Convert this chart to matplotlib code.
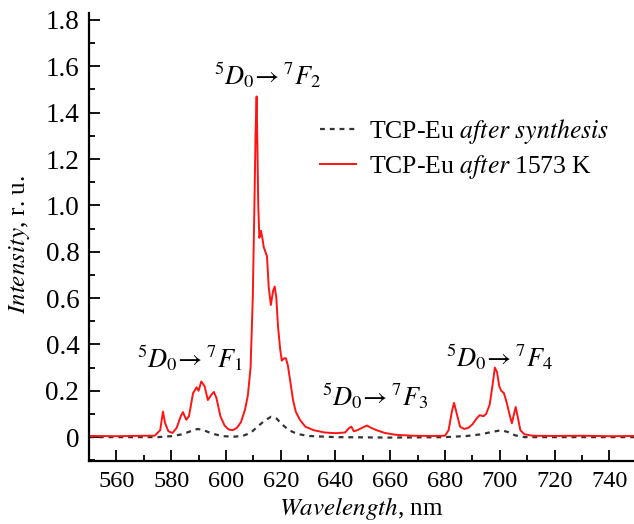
import matplotlib
matplotlib.use('Agg')
import matplotlib.pyplot as plt
from matplotlib.ticker import MultipleLocator, FuncFormatter

# red curve: TCP-Eu after 1573 K
wl_hot = [550, 560, 570, 574, 576, 577, 577.8, 579, 580.5, 582, 583.5, 584.3, 585.5, 586.5,
          588, 589.3, 590, 591, 592.2, 593.4, 594.5, 595.6, 596.5, 598, 599.5, 601, 602.5,
          604, 605.5, 607, 608, 609, 609.8, 610.4, 610.8, 611.2, 611.5, 611.8, 612.2, 612.8,
          613.3, 613.8, 614.4, 615, 615.6, 616.4, 617.2, 617.8, 618.4, 619, 619.8, 620.4,
          621.2, 621.9, 622.6, 623.5, 624.5, 625.5, 627, 629, 632, 636, 640, 643.5, 645,
          645.8, 646.7, 648, 650, 651.5, 653, 655, 658, 662, 668, 675, 680, 681.3, 682.5,
          683.3, 684.3, 685.5, 687, 688.5, 690, 691.5, 692.7, 694, 695, 696.3, 697.3, 698.2,
          699, 699.8, 700.5, 701.5, 702.5, 703.5, 704.4, 705.2, 705.8, 706.5, 707.5, 709,
          712, 720, 730, 740, 750]
int_hot = [0.005, 0.004, 0.006, 0.006, 0.03, 0.11, 0.06, 0.025, 0.018, 0.04, 0.09, 0.108, 0.075, 0.09,
           0.19, 0.215, 0.2, 0.24, 0.22, 0.16, 0.18, 0.195, 0.17, 0.09, 0.05, 0.033, 0.03,
           0.04, 0.065, 0.12, 0.18, 0.3, 0.6, 1.0, 1.3, 1.47, 1.25, 1.0, 0.86, 0.89,
           0.86, 0.82, 0.80, 0.78, 0.65, 0.57, 0.63, 0.65, 0.60, 0.48, 0.38, 0.33,
           0.34, 0.34, 0.31, 0.24, 0.16, 0.11, 0.075, 0.045, 0.03, 0.02, 0.017, 0.02, 0.04,
           0.045, 0.025, 0.03, 0.042, 0.05, 0.04, 0.03, 0.018, 0.01, 0.006, 0.005, 0.006, 0.03, 0.11,
           0.148, 0.1, 0.045, 0.035, 0.04, 0.055, 0.08, 0.095, 0.09, 0.1, 0.14, 0.22, 0.3,
           0.28, 0.22, 0.2, 0.19, 0.15, 0.1, 0.06, 0.1, 0.13, 0.09, 0.03, 0.012,
           0.006, 0.005, 0.006, 0.004, 0.005]

# dashed curve: TCP-Eu after synthesis
wl_syn = [550, 575, 580, 584, 587, 589.5, 591.5, 593.5, 596, 599, 603, 606, 609, 611.5, 614,
          616.5, 618.5, 620.5, 623, 626, 630, 640, 660, 680, 688, 693, 697, 700.5, 703,
          705.5, 709, 750]
int_syn = [0.0, 0.0, 0.004, 0.012, 0.025, 0.035, 0.032, 0.022, 0.012, 0.004, 0.002, 0.005, 0.018,
           0.045, 0.07, 0.088, 0.08, 0.055, 0.03, 0.014, 0.005, 0.0, -0.002, 0.0, 0.005, 0.012,
           0.022, 0.03, 0.022, 0.008, 0.0, 0.0]

transitions = [r'$^5D_0\!\rightarrow{}^7F_1$', r'$^5D_0\!\rightarrow{}^7F_2$',
               r'$^5D_0\!\rightarrow{}^7F_3$', r'$^5D_0\!\rightarrow{}^7F_4$']
trans_xy = [(567.5, 0.302), (595.5, 1.52), (635, 0.138), (680.3, 0.306)]

plt.rcParams['font.family'] = ['Liberation Serif', 'DejaVu Serif']
plt.rcParams['mathtext.fontset'] = 'stix'

fig = plt.figure(figsize=(6.34, 5.24), dpi=100)
ax = fig.add_axes([89/634, 63/524, 545/634, 448/524])

ax.plot(wl_syn, int_syn, color='#333333', lw=1.6, ls=(0, (2.2, 2.2)),
        label=r'TCP-Eu $\mathit{after\ synthesis}$')
ax.plot(wl_hot, int_hot, color='#ff1414', lw=1.4, label=r'TCP-Eu $\mathit{after}$ 1573 K')

for txt, (tx, ty) in zip(transitions, trans_xy):
    ax.text(tx, ty, txt, fontsize=19, ha='left', va='baseline')

ax.set_xlim(550, 749)
ax.set_ylim(-0.103, 1.83)
ax.xaxis.set_major_locator(MultipleLocator(20))
ax.xaxis.set_minor_locator(MultipleLocator(10))
ax.yaxis.set_major_locator(MultipleLocator(0.2))
ax.yaxis.set_minor_locator(MultipleLocator(0.1))
ax.yaxis.set_major_formatter(FuncFormatter(lambda v, p: '0' if abs(v) < 1e-9 else f'{v:.1f}'))

for s in ['top', 'right']:
    ax.spines[s].set_visible(False)
for s in ['left', 'bottom']:
    ax.spines[s].set_linewidth(1.6)

ax.tick_params(which='both', direction='in', width=1.3, colors='black')
ax.tick_params(which='major', length=8)
ax.tick_params(which='minor', length=4.5)
ax.tick_params(axis='x', pad=7, labelsize=17.5)
ax.tick_params(axis='y', pad=7, labelsize=19.5)

ax.set_xlabel(r'$\mathit{Wavelength}$, nm', fontsize=18)
ax.set_ylabel(r'$\mathit{Intensity}$, r. u.', fontsize=18)
ax.xaxis.set_label_coords(0.5, -0.077)
ax.yaxis.set_label_coords(-0.105, 0.482)

ax.legend(loc='center left', bbox_to_anchor=(320/634, 1 - 149/524), bbox_transform=fig.transFigure,
          frameon=False, fontsize=18.5, handlelength=1.4, handletextpad=0.5, labelspacing=0.3,
          borderpad=0, borderaxespad=0)

plt.savefig('out.png', dpi=100)
